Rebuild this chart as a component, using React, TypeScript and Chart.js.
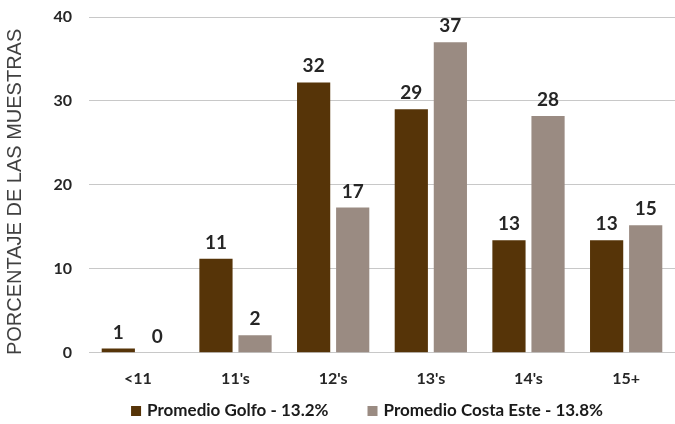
import React, { useEffect, useRef } from "react";
import { Chart, registerables } from "chart.js";

Chart.register(...registerables);

const categories = ["<11", "11's", "12's", "13's", "14's", "15+"];
const golfoValues = [0.5, 11.2, 32.2, 29.0, 13.4, 13.4];
const costaValues = [0.0, 2.1, 17.3, 37.0, 28.2, 15.2];
const golfoLabels = ["1", "11", "32", "29", "13", "13"];
const costaLabels = ["0", "2", "17", "37", "28", "15"];
const seriesNames = ["Promedio Golfo - 13.2%", "Promedio Costa Este - 13.8%"];
const seriesColors = ["#563408", "#9a8b82"];
const yTicks = [0, 10, 20, 30, 40];
const yTitle = "PORCENTAJE DE LAS MUESTRAS";

const FONT = "Lato, 'Open Sans', sans-serif";

const valueLabelPlugin = {
  id: "valueLabels",
  afterDatasetsDraw(chart: any) {
    const ctx = chart.ctx;
    const labelSets = [golfoLabels, costaLabels];
    ctx.save();
    ctx.font = `bold 19px ${FONT}`;
    ctx.fillStyle = "#262626";
    ctx.textAlign = "center";
    ctx.textBaseline = "alphabetic";
    chart.data.datasets.forEach((_ds: any, di: number) => {
      const meta = chart.getDatasetMeta(di);
      meta.data.forEach((bar: any, i: number) => {
        ctx.fillText(labelSets[di][i], bar.x, bar.y - 10);
      });
    });
    ctx.restore();
  },
};

const yTitlePlugin = {
  id: "yTitle",
  afterDraw(chart: any) {
    const ctx = chart.ctx;
    const area = chart.chartArea;
    ctx.save();
    ctx.translate(15, (area.top + area.bottom) / 2 + 7);
    ctx.rotate(-Math.PI / 2);
    ctx.font = "20px 'Liberation Sans', Arial, sans-serif";
    ctx.fillStyle = "#404040";
    ctx.textAlign = "center";
    ctx.textBaseline = "middle";
    ctx.fillText(yTitle, 0, 0);
    ctx.restore();
  },
};

const customLegendPlugin = {
  id: "customLegend",
  afterDraw(chart: any) {
    const ctx = chart.ctx;
    ctx.save();
    ctx.font = `bold 17px ${FONT}`;
    const box = 10;
    const gap = 6;
    const spacing = 39;
    const widths = seriesNames.map((t) => ctx.measureText(t).width);
    const total = widths.reduce((a, w) => a + box + gap + w, 0) + spacing;
    const centerX = 367;
    const cy = 411;
    let x = centerX - total / 2;
    ctx.textBaseline = "middle";
    ctx.textAlign = "left";
    seriesNames.forEach((t, i) => {
      ctx.fillStyle = seriesColors[i];
      ctx.fillRect(x, cy - box / 2, box, box);
      x += box + gap;
      ctx.fillStyle = "#1a1a1a";
      ctx.fillText(t, x, cy);
      x += widths[i] + spacing;
    });
    ctx.restore();
  },
};

export default function App() {
  const ref = useRef<HTMLCanvasElement>(null);
  useEffect(() => {
    document.body.style.margin = "0";
    const chart = new Chart(ref.current!, {
      type: "bar",
      data: {
        labels: categories,
        datasets: [
          {
            label: seriesNames[0],
            data: golfoValues,
            backgroundColor: seriesColors[0],
            categoryPercentage: 0.8,
            barPercentage: 0.85,
          },
          {
            label: seriesNames[1],
            data: costaValues,
            backgroundColor: seriesColors[1],
            categoryPercentage: 0.8,
            barPercentage: 0.85,
          },
        ],
      },
      options: {
        animation: false,
        responsive: false,
        layout: { padding: { top: 17, right: 0, left: 0, bottom: 28 } },
        plugins: {
          legend: { display: false },
          tooltip: { enabled: false },
        },
        scales: {
          x: {
            grid: { display: false },
            border: { display: false },
            ticks: {
              color: "#262626",
              padding: 8,
              font: { family: FONT, size: 16, weight: "bold" },
            },
          },
          y: {
            min: 0,
            max: 40,
            afterBuildTicks(scale: any) {
              scale.ticks = yTicks.map((v) => ({ value: v }));
            },
            afterFit(scale: any) {
              scale.width = 89;
            },
            grid: {
              color: "#c8c8c8",
              drawTicks: true,
              tickLength: 13,
              tickColor: "rgba(0,0,0,0)",
              lineWidth: 1,
            },
            border: { display: false },
            ticks: {
              color: "#262626",
              padding: 4,
              font: { family: FONT, size: 16, weight: "bold" },
            },
          },
        },
      },
      plugins: [valueLabelPlugin, yTitlePlugin, customLegendPlugin],
    });
    return () => chart.destroy();
  }, []);
  return (
    <div style={{ width: 675, height: 424 }}>
      <canvas ref={ref} width={675} height={424} />
    </div>
  );
}
